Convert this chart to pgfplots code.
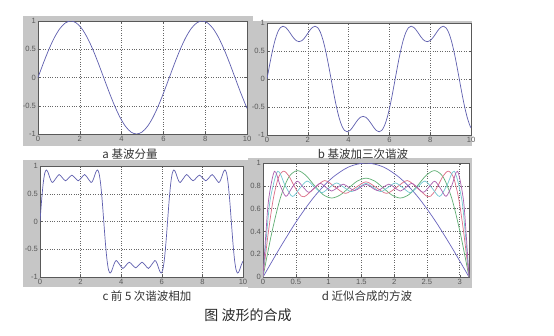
\documentclass[border=0pt]{standalone}
\usepackage{fontspec}
\setmainfont{Liberation Sans}
\newfontfamily\cjk{Noto Sans CJK SC}
\usepackage{pgfplots}
\pgfplotsset{compat=1.18}
\definecolor{figgray}{RGB}{198,198,198}
\definecolor{wave}{RGB}{95,95,175}
\definecolor{cB}{RGB}{105,100,190}
\definecolor{cG}{RGB}{95,175,115}
\definecolor{cR}{RGB}{220,110,135}
\definecolor{cC}{RGB}{115,200,210}
\definecolor{cM}{RGB}{170,95,175}
\pgfplotsset{
  mat/.style={
    scale only axis, anchor=south west,
    axis background/.style={fill=white},
    axis line style={draw=black!65, line width=0.5pt},
    grid=major,
    major grid style={dotted, black!60, line width=0.45pt},
    tick align=inside, major tick length=2pt,
    tick style={black!65, line width=0.4pt},
    tick label style={font=\fontsize{7.6}{8}\selectfont, text=black!65},
    xticklabel style={yshift=1.5pt},
    yticklabel style={xshift=1.5pt},
    clip=true,
  },
  wv/.style={mat, ymin=-1, ymax=1, ytick={-1,-0.5,0,0.5,1},
    yticklabels={-1,-0.5,0,0.5,1},
    xmin=0, xmax=572.958,
    xtick={0,114.592,229.183,343.775,458.366,572.958},
    xticklabels={0,2,4,6,8,10}},
}
\begin{document}
\begin{tikzpicture}[x=1pt,y=1pt]
\useasboundingbox (0,0) rectangle (554,335);
\fill[figgray] (23,189) rectangle (253,319);
\fill[figgray] (253,189) rectangle (472,314);
\fill[figgray] (23,48) rectangle (248,175);
\fill[figgray] (248,47) rectangle (472,177);

% a
\begin{axis}[wv, at={(38pt,201pt)}, width=209pt, height=113pt]
\addplot[wave, line width=0.7pt, smooth] coordinates {
(0,0)(15,.2588)(30,.5)(45,.7071)(60,.866)(75,.9659)(90,1)(105,.9659)(120,.866)(135,.7071)(150,.5)(165,.2588)(180,0)
(195,-.2588)(210,-.5)(225,-.7071)(240,-.866)(255,-.9659)(270,-1)(285,-.9659)(300,-.866)(315,-.7071)(330,-.5)(345,-.2588)(360,0)
(375,.2588)(390,.5)(405,.7071)(420,.866)(435,.9659)(450,1)(465,.9659)(480,.866)(495,.7071)(510,.5)(525,.2588)(540,0)
(555,-.2588)(570,-.5)(572.958,-.544)};
\end{axis}

% b
\begin{axis}[wv, at={(267pt,200pt)}, width=204pt, height=112pt]
\addplot[wave, line width=0.7pt, smooth] coordinates {
(0,0)(7.5,.2581)(15,.4945)(22.5,.6907)(30,.8333)(37.5,.9168)(45,.9428)(52.5,.921)(60,.866)(67.5,.7963)(75,.7302)(82.5,.6834)(90,.6667)
(97.5,.6834)(105,.7302)(112.5,.7963)(120,.866)(127.5,.921)(135,.9428)(142.5,.9168)(150,.8333)(157.5,.6907)(165,.4945)(172.5,.2581)(180,0)
(187.5,-.2581)(195,-.4945)(202.5,-.6907)(210,-.8333)(217.5,-.9168)(225,-.9428)(232.5,-.921)(240,-.866)(247.5,-.7963)(255,-.7302)(262.5,-.6834)(270,-.6667)
(277.5,-.6834)(285,-.7302)(292.5,-.7963)(300,-.866)(307.5,-.921)(315,-.9428)(322.5,-.9168)(330,-.8333)(337.5,-.6907)(345,-.4945)(352.5,-.2581)(360,0)
(367.5,.2581)(375,.4945)(382.5,.6907)(390,.8333)(397.5,.9168)(405,.9428)(412.5,.921)(420,.866)(427.5,.7963)(435,.7302)(442.5,.6834)(450,.6667)
(457.5,.6834)(465,.7302)(472.5,.7963)(480,.866)(487.5,.921)(495,.9428)(502.5,.9168)(510,.8333)(517.5,.6907)(525,.4945)(532.5,.2581)(540,0)
(547.5,-.2581)(555,-.4945)(562.5,-.6907)(570,-.8333)(572.958,-.8733)};
\end{axis}

% c
\begin{axis}[wv, at={(40pt,58pt)}, width=203pt, height=111pt]
\addplot[wave, line width=0.7pt, smooth] coordinates {
(0,0)(4.5,.3796)(9,.6861)(13.5,.8718)(18,.9286)(22.5,.8877)(27,.8033)(31.5,.7305)(36,.7036)(45,.779)(54,.846)(63,.7882)(72,.7335)(81,.7846)(90,.8349)
(99,.7846)(108,.7335)(117,.7882)(126,.846)(135,.779)(144,.7036)(148.5,.7305)(153,.8033)(157.5,.8877)(162,.9286)(166.5,.8718)(171,.6861)(175.5,.3796)(180,0)
(184.5,-.3796)(189,-.6861)(193.5,-.8718)(198,-.9286)(202.5,-.8877)(207,-.8033)(211.5,-.7305)(216,-.7036)(225,-.779)(234,-.846)(243,-.7882)(252,-.7335)(261,-.7846)(270,-.8349)
(279,-.7846)(288,-.7335)(297,-.7882)(306,-.846)(315,-.779)(324,-.7036)(328.5,-.7305)(333,-.8033)(337.5,-.8877)(342,-.9286)(346.5,-.8718)(351,-.6861)(355.5,-.3796)(360,0)
(364.5,.3796)(369,.6861)(373.5,.8718)(378,.9286)(382.5,.8877)(387,.8033)(391.5,.7305)(396,.7036)(405,.779)(414,.846)(423,.7882)(432,.7335)(441,.7846)(450,.8349)
(459,.7846)(468,.7335)(477,.7882)(486,.846)(495,.779)(504,.7036)(508.5,.7305)(513,.8033)(517.5,.8877)(522,.9286)(526.5,.8718)(531,.6861)(535.5,.3796)(540,0)
(544.5,-.3796)(549,-.6861)(553.5,-.8718)(558,-.9286)(562.5,-.8877)(567,-.8033)(571.5,-.7305)(572.958,-.7156)};
\end{axis}

% d
\begin{axis}[mat, at={(263pt,58pt)}, width=206pt, height=114pt,
  xmin=0, xmax=180, ymin=0, ymax=1,
  xtick={0,28.648,57.296,85.944,114.592,143.239,171.887},
  xticklabels={0,0.5,1,1.5,2,2.5,3},
  ytick={0,0.2,0.4,0.6,0.8,1}, yticklabels={0,0.2,0.4,0.6,0.8,1}]
\addplot[cB, line width=0.7pt, smooth] coordinates {
(0,0)(15,.2588)(30,.5)(45,.7071)(60,.866)(75,.9659)(90,1)(105,.9659)(120,.866)(135,.7071)(150,.5)(165,.2588)(180,0)};
\addplot[cG, line width=0.7pt, smooth] coordinates {
(0,0)(7.5,.3799)(15,.6877)(22.5,.8755)(30,.9333)(37.5,.8907)(45,.8014)(52.5,.7227)(60,.6928)(67.5,.7198)(75,.782)(82.5,.8421)(90,.8667)
(97.5,.8421)(105,.782)(112.5,.7198)(120,.6928)(127.5,.7227)(135,.8014)(142.5,.8907)(150,.9333)(157.5,.8755)(165,.6877)(172.5,.3799)(180,0)};
\addplot[cR, line width=0.7pt, smooth] coordinates {
(0,0)(4.5,.3796)(9,.6861)(13.5,.8718)(18,.9286)(22.5,.8877)(27,.8033)(31.5,.7305)(36,.7036)(45,.779)(54,.846)(63,.7882)(72,.7335)(81,.7846)(90,.8349)
(99,.7846)(108,.7335)(117,.7882)(126,.846)(135,.779)(144,.7036)(148.5,.7305)(153,.8033)(157.5,.8877)(162,.9286)(166.5,.8718)(171,.6861)(175.5,.3796)(180,0)};
\addplot[cC, line width=0.7pt, smooth] coordinates {
(0,0)(3.214,.3796)(6.429,.6858)(12.857,.9273)(19.286,.8037)(25.714,.7064)(32.143,.7784)(38.571,.8416)(45,.7888)(51.429,.7402)(57.857,.7836)(64.286,.8248)(70.714,.7863)(77.143,.749)(83.571,.7851)(90,.8209)
(96.429,.7851)(102.857,.749)(109.286,.7863)(115.714,.8248)(122.143,.7836)(128.571,.7402)(135,.7888)(141.429,.8416)(147.857,.7784)(154.286,.7064)(160.714,.8037)(167.143,.9273)(173.571,.6858)(176.786,.3796)(180,0)};
\addplot[cM, line width=0.7pt, smooth] coordinates {
(0,0)(2.5,.3795)(5,.6857)(10,.9268)(15,.8039)(20,.7074)(25,.7782)(30,.8399)(35,.7891)(40,.7427)(45,.7833)(50,.8214)(55,.7867)(60,.7535)(65,.7846)(70,.8148)(75,.7858)(80,.7573)(85,.7853)(90,.8131)
(95,.7853)(100,.7573)(105,.7858)(110,.8148)(115,.7846)(120,.7535)(125,.7867)(130,.8214)(135,.7833)(140,.7427)(145,.7891)(150,.8399)(155,.7782)(160,.7074)(165,.8039)(170,.9268)(175,.6857)(177.5,.3795)(180,0)};
\end{axis}

\node[font=\cjk\fontsize{11.5}{12}\selectfont, text=black!80] at (130,181) {a 基波分量};
\node[font=\cjk\fontsize{11.5}{12}\selectfont, text=black!80] at (363,181) {b 基波加三次谐波};
\node[font=\cjk\fontsize{11.5}{12}\selectfont, text=black!80] at (147,39) {c 前 5 次谐波相加};
\node[font=\cjk\fontsize{11.5}{12}\selectfont, text=black!80] at (367,39) {d 近似合成的方波};
\node[font=\cjk\fontsize{14}{15}\selectfont, text=black!85] at (248,20) {图 波形的合成};
\end{tikzpicture}
\end{document}
